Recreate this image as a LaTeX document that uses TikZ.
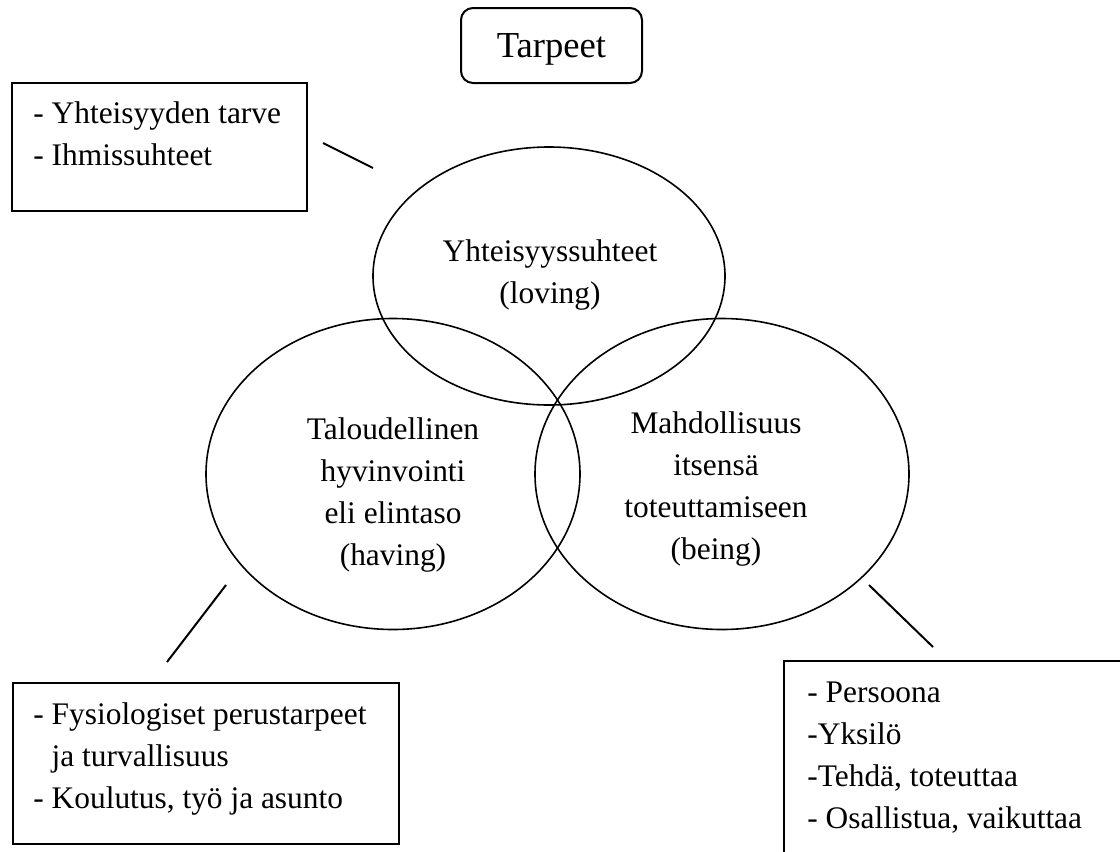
\documentclass[tikz,border=0pt]{standalone}
\usepackage{fontspec}
\setmainfont{Liberation Serif}
\usetikzlibrary{shapes.geometric}

\begin{document}
\begin{tikzpicture}[x=0.5pt, y=-0.5pt,
		ring/.style={ellipse, draw, line width=0.8pt, inner sep=0pt},
		note/.style={rectangle, draw, line width=1pt, inner sep=0pt},
		txt/.style={inner sep=0pt, font=\fontsize{15.7}{21}\selectfont},
		tick/.style={line width=1pt}]
		\clip (0,0) rectangle (1120,852);
		
		% heading
		\node[note, rounded corners=6pt, minimum width=90.5pt, minimum height=37.5pt,
			text depth=0pt, font=\fontsize{18.3}{22}\selectfont] (tarpeet) at (551.5,45.5) {Tarpeet};
		
		% the three needs
		\node[ring, minimum width=176pt, minimum height=129pt] (loving) at (549,276) {};
		\node[ring, minimum width=187pt, minimum height=155.5pt] (having) at (393,474) {};
		\node[ring, minimum width=187pt, minimum height=155.5pt] (being) at (722,474) {};
		
		% text nodes: base = last line
		\node[txt, align=center, anchor=base] (lovingtxt) at (550,303)
			{Yhteisyyssuhteet\\(loving)};
		\node[txt, align=center, anchor=base] (havingtxt) at (393,565)
			{Taloudellinen\\hyvinvointi\\eli elintaso\\(having)};
		\node[txt, align=center, anchor=base] (beingtxt) at (716,559)
			{Mahdollisuus\\itsensä\\toteuttamiseen\\(being)};
		
		% side boxes
		\node[note, minimum width=147.5pt, minimum height=64pt] (lovingbox) at (159.5,147) {};
		\node[note, minimum width=193pt, minimum height=80.5pt] (havingbox) at (206,763.5) {};
		\node[note, minimum width=180pt, minimum height=110pt] (beingbox) at (964,771) {};
		
		\node[txt, align=left, anchor=base west] (lovinglist) at (33,165)
			{- Yhteisyyden tarve\\- Ihmissuhteet};
		\node[txt, align=left, anchor=base west] (havinglist) at (33,808)
			{- Fysiologiset perustarpeet\\\phantom{- }ja turvallisuus\\- Koulutus, työ ja asunto};
		\node[txt, align=left, anchor=base west] (beinglist) at (807,828)
			{- Persoona\\-Yksilö\\-Tehdä, toteuttaa\\- Osallistua, vaikuttaa};
		
		% short strokes between circles and boxes
		\coordinate (a1) at (323,143);
		\coordinate (a2) at (373,168);
		\coordinate (b1) at (226,585);
		\coordinate (b2) at (167,662);
		\coordinate (c1) at (869,585);
		\coordinate (c2) at (933,647);
		\draw[tick] (a1) -- (a2);
		\draw[tick] (b1) -- (b2);
		\draw[tick] (c1) -- (c2);
	\end{tikzpicture}
\end{document}
